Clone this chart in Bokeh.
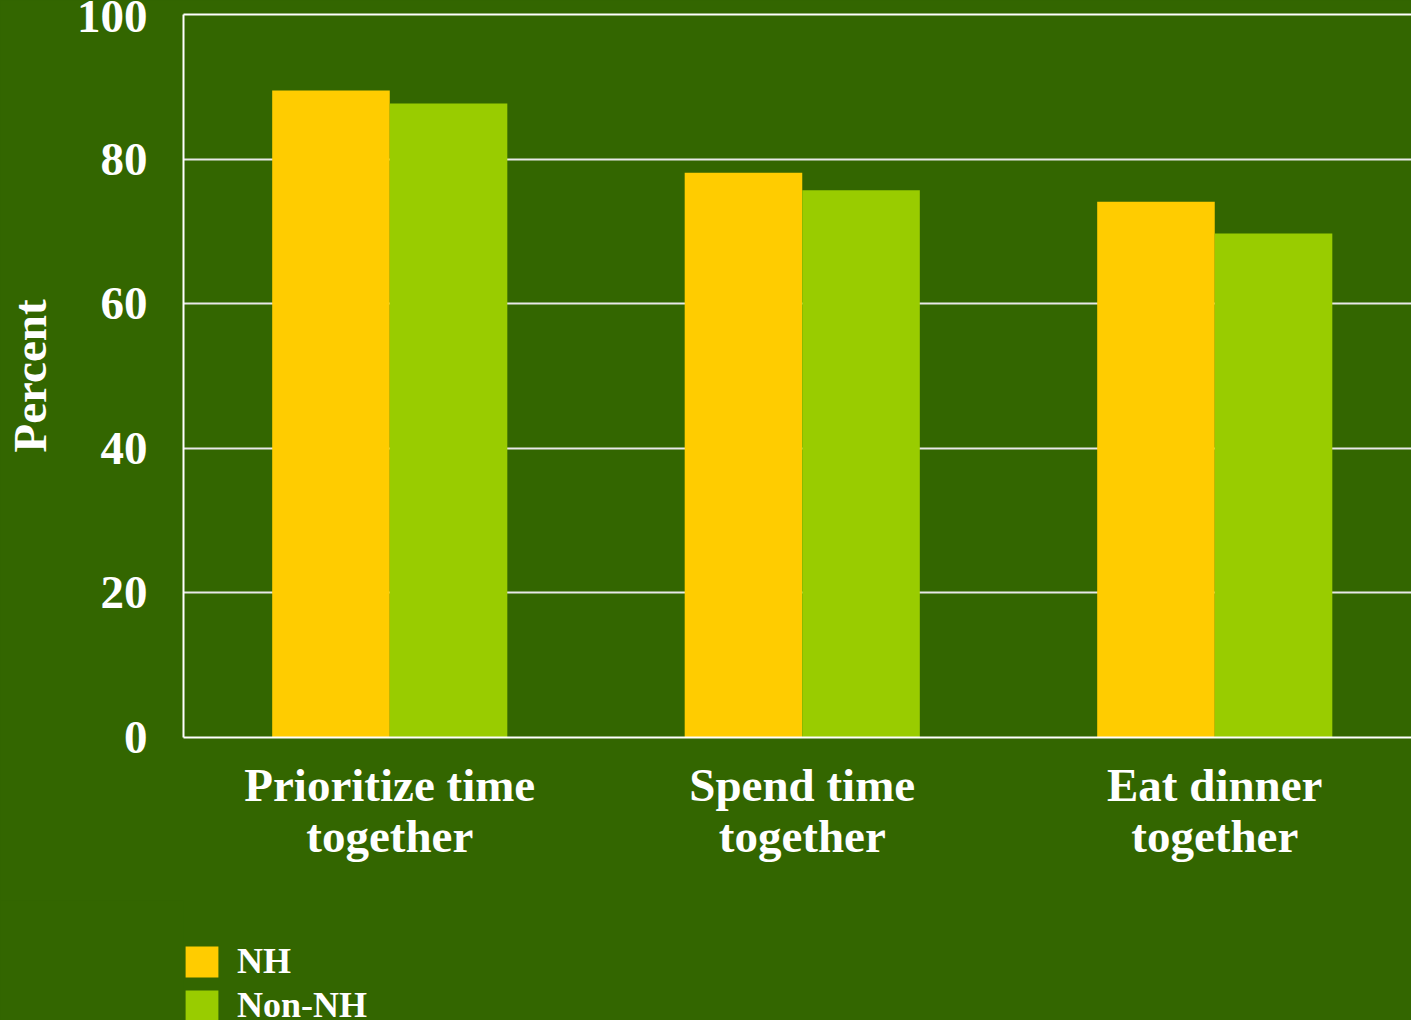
import numpy as np
from bokeh.plotting import figure
from bokeh.layouts import column
from bokeh.models import Range1d, FixedTicker, LinearAxis, Legend, LegendItem, ColumnDataSource
from bokeh.transform import dodge
from bokeh.embed import file_html
from bokeh.resources import INLINE

categories = ["Prioritize time\ntogether", "Spend time\ntogether", "Eat dinner\ntogether"]
series = ["NH", "Non-NH"]
nh_values = [89.5, 78.1, 74.1]
non_nh_values = [87.7, 75.7, 69.7]
y_ticks = [0, 20, 40, 60, 80, 100]

BG = "#336600"
COLORS = ["#FFCC00", "#99CC00"]
FONT = "Liberation Serif"

x = np.arange(len(categories))
bar_w = 0.285

W = 1411
H_MAIN, H_LEG = 900, 120
LEFT, TOP, BOTTOM = 183, 14, 163
p = figure(width=W, height=H_MAIN, output_backend="svg", toolbar_location=None,
           x_range=Range1d(-0.5, -0.5 + (W - LEFT) / 412.5), y_range=Range1d(0, 100),
           min_border_left=LEFT, min_border_top=TOP, min_border_bottom=BOTTOM, min_border_right=0,
           background_fill_color=BG, border_fill_color=BG, outline_line_color=None,
           styles={"background-color": BG})

src = ColumnDataSource(dict(x=x, nh=nh_values, non=non_nh_values))
r1 = p.vbar(x=dodge("x", -bar_w / 2), top="nh", width=bar_w, source=src,
            fill_color=COLORS[0], line_color=None)
r2 = p.vbar(x=dodge("x", bar_w / 2), top="non", width=bar_w, source=src,
            fill_color=COLORS[1], line_color=None)

def style(ax, size="47px"):
    ax.major_tick_line_color = None
    ax.minor_tick_line_color = None
    ax.major_label_text_color = "white"
    ax.major_label_text_font = FONT
    ax.major_label_text_font_style = "bold"
    ax.major_label_text_font_size = size

# x axis: first line of each category label
xticks = [int(i) for i in x]
first_lines = [c.split("\n")[0] for c in categories]
second_lines = [c.split("\n")[1] for c in categories]
xa = p.xaxis[0]
xa.ticker = FixedTicker(ticks=xticks)
xa.major_label_overrides = {i: t for i, t in zip(xticks, first_lines)}
xa.axis_line_color = "white"
xa.axis_line_width = 2
xa.major_label_standoff = 15
style(xa)

# second line of the category labels
xa2 = LinearAxis(ticker=FixedTicker(ticks=xticks),
                 major_label_overrides={i: t for i, t in zip(xticks, second_lines)},
                 axis_line_color=None, major_label_standoff=-10)
style(xa2)
p.add_layout(xa2, "below")

ya = p.yaxis[0]
ya.ticker = FixedTicker(ticks=y_ticks)
ya.axis_line_color = "white"
ya.axis_line_width = 2
ya.major_label_standoff = 30
style(ya)
ya.axis_label = "Percent"
ya.axis_label_text_color = "white"
ya.axis_label_text_font = FONT
ya.axis_label_text_font_style = "bold"
ya.axis_label_text_font_size = "47px"
ya.axis_label_standoff = 18

top = LinearAxis(ticker=FixedTicker(ticks=[]), axis_line_color="white", axis_line_width=2,
                 major_tick_line_color=None, minor_tick_line_color=None,
                 major_label_text_font_size="0px")
p.add_layout(top, "above")

p.xgrid.grid_line_color = None
p.ygrid.ticker = FixedTicker(ticks=y_ticks)
p.ygrid.grid_line_color = "#E8E8E8"
p.ygrid.grid_line_width = 2

# legend strip below the chart
p2 = figure(width=W, height=H_LEG, output_backend="svg", toolbar_location=None,
            x_range=Range1d(-0.5, 2.5), y_range=Range1d(0, 100),
            x_axis_location=None, y_axis_location=None, min_border=0,
            background_fill_alpha=0, border_fill_color=BG, outline_line_color=None,
            styles={"background-color": BG})
p2.grid.visible = False
l1 = p2.vbar(x=dodge("x", -bar_w / 2), top="nh", width=bar_w, source=src,
             fill_color=COLORS[0], line_color=None, visible=False)
l2 = p2.vbar(x=dodge("x", bar_w / 2), top="non", width=bar_w, source=src,
             fill_color=COLORS[1], line_color=None, visible=False)
legend = Legend(items=[LegendItem(label=series[0], renderers=[l1]),
                       LegendItem(label=series[1], renderers=[l2])],
                location=(-2, -6), orientation="vertical",
                background_fill_alpha=0, border_line_color=None,
                padding=0, margin=0, spacing=2,
                glyph_width=41, glyph_height=39, label_height=39, label_standoff=15,
                label_text_color="white", label_text_font=FONT, label_text_font_style="bold",
                label_text_font_size="36px")
p2.add_layout(legend, "center")

layout = column(p, p2, spacing=0, styles={"background-color": BG})
open("out.html", "w").write(file_html(layout, INLINE))
